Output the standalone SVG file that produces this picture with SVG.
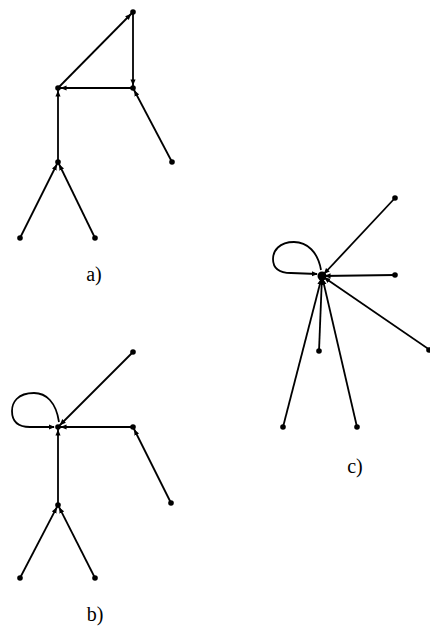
<svg xmlns="http://www.w3.org/2000/svg" width="430" height="635" viewBox="0 0 430 635">
<defs>
<marker id="ah" markerUnits="userSpaceOnUse" markerWidth="6" markerHeight="6" refX="10" refY="3" orient="auto" viewBox="0 0 7 6">
<path d="M0,0 L7,3 L0,6 Z" fill="#000"/>
</marker>
<marker id="ahl" markerUnits="userSpaceOnUse" markerWidth="6" markerHeight="6" refX="6" refY="3" orient="auto" viewBox="0 0 7 6">
<path d="M0,0 L7,3 L0,6 Z" fill="#000"/>
</marker>
</defs>
<style>
.e{stroke:#000;stroke-width:1.8;fill:none;marker-end:url(#ah)}
.l{stroke:#000;stroke-width:1.8;fill:none;marker-end:url(#ahl)}
.n{fill:#000}
.t{font-family:"Liberation Serif","DejaVu Serif",serif;font-size:20px;fill:#000}
</style>
<rect width="430" height="635" fill="#fff"/>
<g id="connectors">
<line class="e" x1="58" y1="88" x2="133" y2="12"/>
<line class="e" x1="133" y1="12" x2="133" y2="88"/>
<line class="e" x1="133" y1="88" x2="58" y2="88"/>
<line class="e" x1="58" y1="162" x2="58" y2="88"/>
<line class="e" x1="172" y1="162" x2="133" y2="88"/>
<line class="e" x1="20" y1="238" x2="58" y2="162"/>
<line class="e" x1="95" y1="238" x2="58" y2="162"/>
<path class="l" d="M59,422 C56,402 46,393 34,393 C17,393 12,403 12,411 C12,422 19,427 30,427 L54,427"/>
<line class="e" x1="133" y1="352" x2="58" y2="427"/>
<line class="e" x1="133" y1="427" x2="58" y2="427"/>
<line class="e" x1="58" y1="505" x2="58" y2="427"/>
<line class="e" x1="171" y1="503" x2="133" y2="427"/>
<line class="e" x1="20" y1="578" x2="58" y2="505"/>
<line class="e" x1="95" y1="578" x2="58" y2="505"/>
<path class="l" d="M321,270 C318,252 307,242 294,242 C279,242 273,251 273,259 C273,269 280,273 291,273 L317,274"/>
<line class="e" x1="395" y1="198" x2="322" y2="276"/>
<line class="e" x1="395" y1="275" x2="322" y2="276"/>
<line class="e" x1="430" y1="350" x2="322" y2="276"/>
<line class="e" x1="319" y1="351" x2="322" y2="276"/>
<line class="e" x1="283" y1="427" x2="322" y2="276"/>
<line class="e" x1="357" y1="427" x2="322" y2="276"/>
</g>
<g id="a_top"><circle class="n" cx="133" cy="12" r="2.8"/></g>
<g id="a_A"><circle class="n" cx="58" cy="88" r="2.8"/></g>
<g id="a_B"><circle class="n" cx="133" cy="88" r="2.8"/></g>
<g id="a_Bc"><circle class="n" cx="172" cy="162" r="2.8"/></g>
<g id="a_C"><circle class="n" cx="58" cy="162" r="2.8"/></g>
<g id="a_C1"><circle class="n" cx="20" cy="238" r="2.8"/></g>
<g id="a_C2"><circle class="n" cx="95" cy="238" r="2.8"/></g>
<g id="b_N"><circle class="n" cx="58" cy="427" r="2.8"/></g>
<g id="b_T"><circle class="n" cx="133" cy="352" r="2.8"/></g>
<g id="b_R"><circle class="n" cx="133" cy="427" r="2.8"/></g>
<g id="b_Rc"><circle class="n" cx="171" cy="503" r="2.8"/></g>
<g id="b_L"><circle class="n" cx="58" cy="505" r="2.8"/></g>
<g id="b_L1"><circle class="n" cx="20" cy="578" r="2.8"/></g>
<g id="b_L2"><circle class="n" cx="95" cy="578" r="2.8"/></g>
<g id="c_N"><circle class="n" cx="322" cy="276" r="4.5"/></g>
<g id="c_1"><circle class="n" cx="395" cy="198" r="2.8"/></g>
<g id="c_2"><circle class="n" cx="395" cy="275" r="2.8"/></g>
<g id="c_3"><circle class="n" cx="429" cy="350" r="2.8"/></g>
<g id="c_4"><circle class="n" cx="319" cy="351" r="2.8"/></g>
<g id="c_5"><circle class="n" cx="283" cy="427" r="2.8"/></g>
<g id="c_6"><circle class="n" cx="357" cy="427" r="2.8"/></g>
<g id="labels">
<text class="t" x="94" y="281" text-anchor="middle">a)</text>
<text class="t" x="95" y="621" text-anchor="middle">b)</text>
<text class="t" x="355" y="473" text-anchor="middle">c)</text>
</g>
</svg>
